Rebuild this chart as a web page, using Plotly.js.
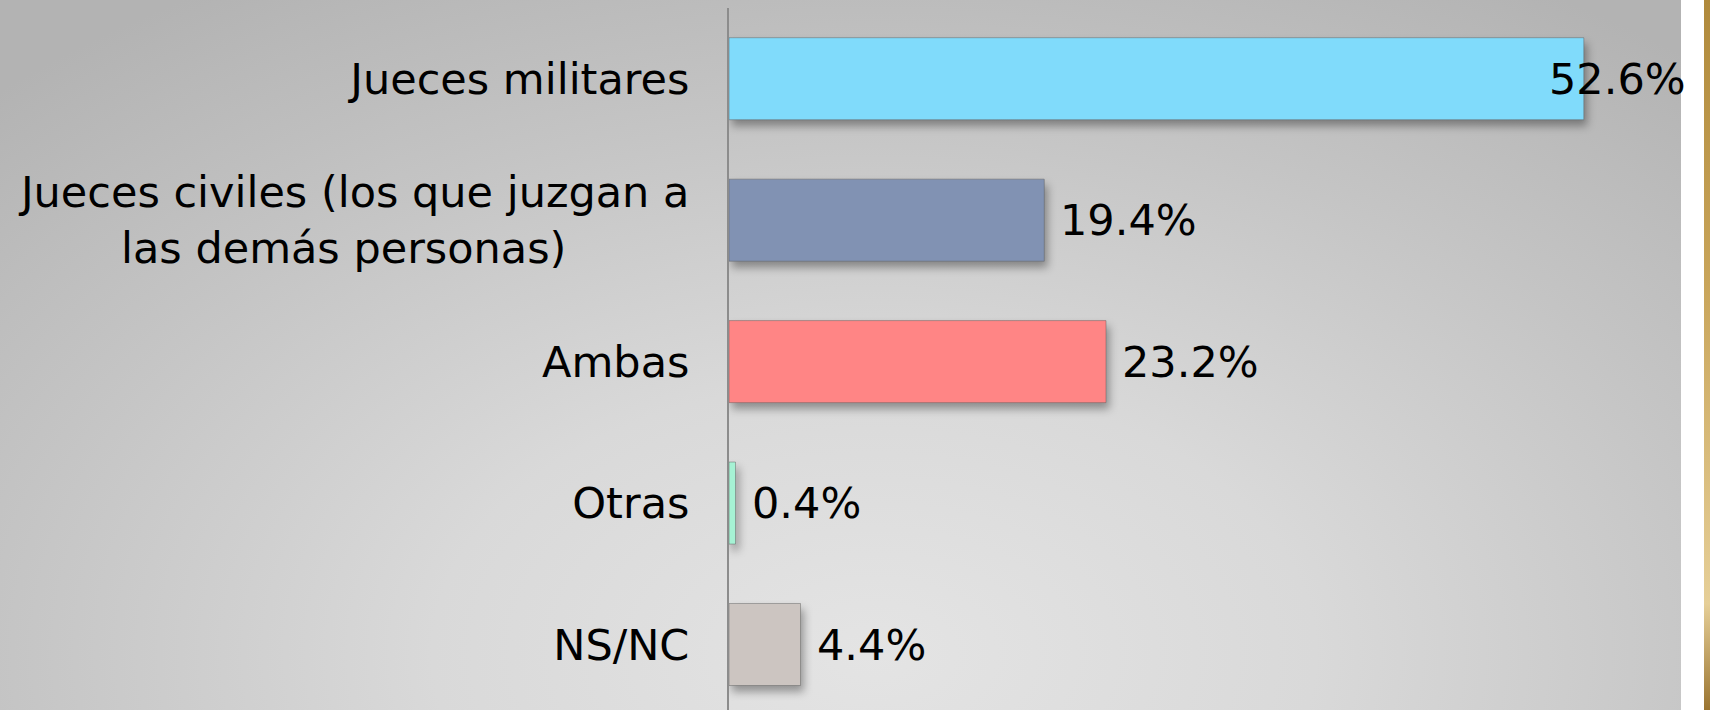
<!DOCTYPE html>
<html>
<head>
<meta charset="utf-8">
<script src="https://cdn.plot.ly/plotly-3.0.1.min.js"></script>
<style>
  html, body { margin: 0; padding: 0; background: #ffffff; }
  #wrap { position: relative; width: 1710px; height: 710px; overflow: hidden; background: #ffffff; }
  #bg { position: absolute; left: 0; top: 0; width: 1681px; height: 710px;
        background: radial-gradient(ellipse 75% 110% at 52% 92%, #e4e4e4 0%, #d9d9d9 35%, #c4c4c4 70%, #b3b3b3 100%); }
  #gold { position: absolute; left: 1704px; top: 0; width: 6px; height: 710px;
          background: linear-gradient(180deg, #b08a3c 0%, #c9a55a 40%, #e6cf98 85%, #9a7430 100%); }
  #chart { position: absolute; left: 0; top: 0; width: 1710px; height: 710px; }
  #chart .bars .point path { filter: drop-shadow(3px 6px 4px rgba(0,0,0,0.35)); }
</style>
</head>
<body>
<div id="wrap">
  <div id="bg"></div>
  <div id="gold"></div>
  <div id="chart"></div>
</div>
<script>
const NBSP = '\u00a0';
const categories = [
  'Jueces militares',
  'Jueces civiles (los que juzgan a<br>las demás personas)' + NBSP.repeat(9),
  'Ambas',
  'Otras',
  'NS/NC'
];
const values = [52.6, 19.4, 23.2, 0.4, 4.4];
const valueLabels = ['52.6%', '19.4%', '23.2%', '0.4%', '4.4%'];
const barColors = ['#80dbfb', '#8192b3', '#ff8585', '#a6f2d4', '#ccc5c1'];
const labelShift = [-37, 14, 14, 14, 14];

const FONT = 'DejaVu Sans, Verdana, sans-serif';

const trace = {
  type: 'bar',
  orientation: 'h',
  y: categories,
  x: values,
  marker: { color: barColors, line: { color: 'rgba(90,90,90,0.45)', width: 1 } },
  hoverinfo: 'none',
  cliponaxis: false
};

const annotations = values.map((v, i) => ({
  x: v, y: categories[i], xref: 'x', yref: 'y',
  text: valueLabels[i], showarrow: false,
  xanchor: 'left', yanchor: 'middle', xshift: labelShift[i],
  font: { family: FONT, size: 43, color: '#000000' }
}));

const layout = {
  width: 1710, height: 710,
  paper_bgcolor: 'rgba(0,0,0,0)',
  plot_bgcolor: 'rgba(0,0,0,0)',
  margin: { l: 729, r: 29, t: 8, b: 0 },
  bargap: 0.42,
  showlegend: false,
  xaxis: {
    range: [0, 58.58], showgrid: false, zeroline: false,
    showticklabels: false, ticks: '', showline: false, fixedrange: true
  },
  yaxis: {
    type: 'category', range: [4.463, -0.5], autorange: false,
    showgrid: false, zeroline: false, ticks: '',
    showline: true, linecolor: '#8c8c8c', linewidth: 2,
    ticklabelstandoff: 29,
    tickfont: { family: FONT, size: 43, color: '#000000' },
    fixedrange: true
  },
  annotations: annotations,
  font: { family: FONT, color: '#000000' }
};

Plotly.newPlot('chart', [trace], layout, { displayModeBar: false, staticPlot: true });
</script>
</body>
</html>
